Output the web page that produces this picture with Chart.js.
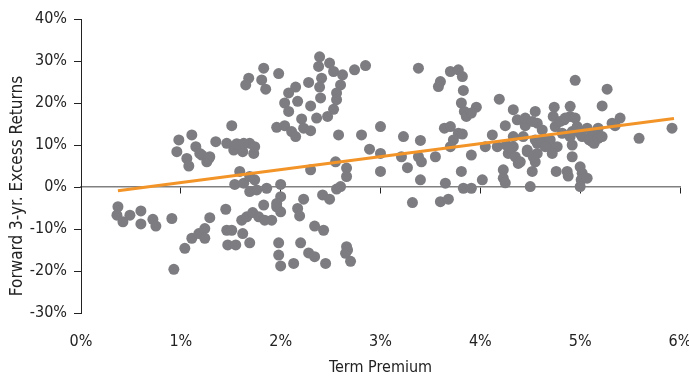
<!DOCTYPE html>
<html>
<head>
<meta charset="utf-8">
<script src="https://cdn.jsdelivr.net/npm/chart.js@4.4.0/dist/chart.umd.min.js"></script>
<style>
  html, body { margin: 0; padding: 0; background: #fff; }
  #wrap { width: 689px; height: 377px; }
</style>
</head>
<body>
<div id="wrap"><canvas id="myChart"></canvas></div>
<script>
// term premium (%) and forward 3-yr excess returns (%)
const termPremium = [
  0.37, 0.36, 0.42, 0.49, 0.60, 0.60, 0.72, 0.75, 0.91, 0.93, 1.04, 1.11, 1.18, 1.24, 1.24, 1.29,
  1.45, 1.46, 1.51, 1.47, 1.55, 1.62, 1.69, 1.61, 1.66, 1.72, 1.78, 1.84, 1.91, 1.83, 1.96, 2.00,
  2.00, 1.98, 1.98, 2.00, 2.13, 2.20, 2.28, 2.34, 2.45, 2.17, 2.19, 2.23, 2.34, 2.43, 2.42, 2.49,
  2.66, 2.67, 2.65, 2.70, 2.56, 2.60, 1.96,
  1.54, 1.63, 1.69, 1.76, 1.86, 1.74, 2.00, 1.59, 1.69, 2.30, 2.55, 2.66, 2.66,
  0.98, 0.96, 1.11, 1.06, 1.08, 1.15, 1.21, 1.26, 1.29, 1.35, 1.51, 1.46, 1.53, 1.58, 1.62, 1.69,
  1.73, 1.74, 1.19, 1.28, 1.56, 1.63,
  1.68, 1.65, 1.83, 1.81, 1.85, 1.98, 2.08, 2.04, 2.08, 2.15, 2.17, 2.28, 2.30, 2.21, 1.96, 2.04,
  2.11, 2.15, 2.23, 2.30, 2.36, 2.39, 2.38, 2.49, 2.41, 2.39, 2.40, 2.53, 2.62, 2.60, 2.56, 2.56,
  2.53, 2.47, 2.58, 2.74, 2.85, 2.81, 2.89, 3.00, 3.00, 3.00,
  3.23, 3.21, 3.27, 3.38, 3.40, 3.38, 3.41, 3.40, 3.55, 3.32, 3.60, 3.58, 3.70, 3.78, 3.82, 3.83,
  3.81, 3.84, 3.86, 3.96, 3.91, 3.64, 3.70, 3.78, 3.82, 3.73, 3.70, 3.91, 3.81, 3.65, 3.83, 3.91,
  3.60, 3.68, 4.02, 4.05, 4.12, 4.17, 4.19, 4.25, 4.23, 4.23, 4.25, 4.33, 4.37, 4.28, 4.33, 4.38,
  4.45, 4.50, 4.52, 4.55, 4.57, 4.62, 4.55, 4.47, 4.57, 4.55, 4.63, 4.74, 4.73, 4.75, 4.70, 4.72,
  4.77, 4.76, 4.87, 4.88, 4.82, 4.84, 4.90, 4.95, 4.90, 4.95, 4.92, 4.92, 4.92, 5.00, 5.02, 5.01,
  5.07, 5.00, 5.07, 5.12, 5.12, 5.20, 5.18, 5.22, 5.27, 5.35, 5.40, 5.59, 5.92,
  4.31, 4.35, 4.40, 4.47, 4.53, 4.45, 4.52, 4.57, 4.80, 4.85, 4.72, 4.65, 4.90, 4.97, 5.02, 5.09,
  5.14, 5.18, 5.22, 5.32, 4.33, 4.26, 4.43, 5.00
];
const excessReturn = [
  -4.7, -6.7, -8.3, -6.7, -5.7, -8.8, -7.7, -9.3, -7.5, -19.6, -14.6, -12.2, -11.1, -9.9, -12.2, -7.3,
  -5.3, -10.3, -10.3, -13.8, -13.8, -11.1, -13.3, -7.9, -7.1, -6.1, -7.1, -7.9, -7.9, -4.3, -4.7, -2.3,
  -5.9, -13.3, -16.2, -18.8, -18.2, -13.3, -15.7, -16.6, -18.2, -5.1, -6.9, -2.9, -9.3, -10.3, -1.9, -2.9,
  -14.2, -15.0, -15.8, -17.7, -0.5, 0.1, -3.9,
  0.6, 0.9, -1.1, -0.7, -0.3, 1.7, 0.6, 3.7, 2.5, 4.1, 6.0, 4.5, 2.5,
  11.2, 8.4, 12.4, 6.8, 5.0, 9.6, 7.6, 6.0, 7.2, 10.8, 14.6, 10.4, 8.8, 10.0, 8.4, 10.4,
  8.0, 9.6, 8.0, 6.8, 10.3, 10.4,
  25.9, 24.3, 28.3, 25.5, 23.3, 27.0, 22.4, 20.0, 18.0, 23.8, 20.4, 24.9, 19.3, 16.2, 14.2, 14.6,
  13.2, 12.0, 14.0, 13.4, 16.4, 31.0, 28.7, 29.5, 25.9, 23.8, 21.2, 27.5, 26.7, 24.3, 22.4, 20.8,
  18.5, 16.8, 12.4, 27.9, 28.9, 12.4, 9.0, 14.4, 8.0, 3.7,
  12.0, 7.2, 4.6, 28.3, 11.1, 7.2, 6.0, 1.7, 7.2, -3.7, 25.1, 23.9, 27.5, 27.9, 26.3, 23.0,
  20.0, 18.0, 16.8, 19.0, 17.6, 14.0, 14.4, 12.8, 12.6, 11.2, 9.6, 7.6, 3.7, 0.9, -0.3, -0.3,
  -3.5, -2.9, 1.7, 9.6, 12.4, 9.6, 20.9, 14.6, 4.1, 2.1, 1.0, 18.4, 16.0, 8.0, 9.6, 5.6,
  14.6, 0.1, 3.7, 18.0, 15.2, 13.6, 11.2, 8.8, 8.0, 6.0, 11.2, 19.0, 16.8, 14.4, 11.2, 8.8,
  9.6, 3.7, 3.7, 2.6, 12.8, 16.0, 19.2, 25.4, 16.8, 16.4, 13.2, 10.0, 7.2, 4.8, 3.3, 1.7,
  2.1, 12.8, 14.0, 12.8, 10.8, 12.0, 14.0, 19.3, 23.3, 14.6, 16.4, 11.6, 14.0,
  9.2, 7.2, 6.0, 8.4, 7.2, 16.4, 15.6, 10.4, 15.6, 16.4, 8.0, 9.6, 12.0, 14.4, 12.0, 11.2,
  10.4, 11.6, 12.0, 15.2, 12.0, 10.0, 12.0, 0.1
];
// fitted trend line end points
const trendX = [0.37, 5.94];
const trendY = [-0.9, 16.3];
const yTitle = 'Forward 3-yr. Excess Returns';

const fontFam = "'Liberation Sans Narrow', 'DejaVu Sans Condensed', 'Roboto Condensed', Roboto, sans-serif";
const pct = v => v + '%';

const points = termPremium.map((x, i) => ({ x: x, y: excessReturn[i] }));
const trend = trendX.map((x, i) => ({ x: x, y: trendY[i] }));

// no side overflow padding for the x axes
const noSidePad = s => { s.paddingLeft = 0; s.paddingRight = 0; };

// y title sits a bit below the middle of the axis in the original
const yTitlePlugin = {
  id: 'yTitle',
  afterDraw(chart) {
    const c = chart.ctx, a = chart.chartArea;
    c.save();
    c.translate(18, (a.top + a.bottom) / 2 + 20);
    c.rotate(-Math.PI / 2);
    c.font = '17px ' + fontFam;
    c.fillStyle = '#222';
    c.textAlign = 'center';
    c.textBaseline = 'middle';
    c.fillText(yTitle, 0, 0);
    c.restore();
  }
};

new Chart(document.getElementById('myChart'), {
  type: 'scatter',
  data: {
    datasets: [{
      type: 'line',
      data: trend,
      borderColor: '#F29428',
      borderWidth: 3,
      pointRadius: 0,
      fill: false,
      order: 0
    }, {
      data: points,
      backgroundColor: '#7c7c81',
      borderWidth: 0,
      pointRadius: 5.5,
      pointHoverRadius: 5.5,
      order: 1
    }]
  },
  options: {
    responsive: true,
    maintainAspectRatio: false,
    animation: false,
    events: [],
    layout: { padding: { left: 0, top: 19, right: 9, bottom: 0 } },
    plugins: { legend: { display: false }, tooltip: { enabled: false } },
    scales: {
      x: {
        type: 'linear',
        position: 'bottom',
        min: 0, max: 6,
        afterFit: s => { s.height = 64; noSidePad(s); },
        border: { display: false },
        grid: { display: false, drawTicks: false },
        ticks: { stepSize: 1, padding: 19, color: '#222', font: { family: fontFam, size: 16 }, callback: pct },
        title: { display: true, text: 'Term Premium', color: '#222', padding: { top: 0, bottom: 0 }, font: { family: fontFam, size: 16 } }
      },
      xz: {
        type: 'linear',
        position: { y: 0 },
        min: 0, max: 6,
        afterFit: noSidePad,
        border: { display: true, color: '#808080', width: 1.5 },
        grid: { drawOnChartArea: false, drawTicks: true, tickLength: 6, color: '#222' },
        ticks: { stepSize: 1, display: false }
      },
      y: {
        min: -30, max: 40,
        afterFit: s => { s.width = 81; },
        border: { display: true, color: '#222', width: 1 },
        grid: { drawOnChartArea: false, drawTicks: true, tickLength: 7, color: '#222' },
        ticks: { stepSize: 10, padding: 7, color: '#222', font: { family: fontFam, size: 16 }, callback: pct }
      }
    }
  },
  plugins: [yTitlePlugin]
});
</script>
</body>
</html>
